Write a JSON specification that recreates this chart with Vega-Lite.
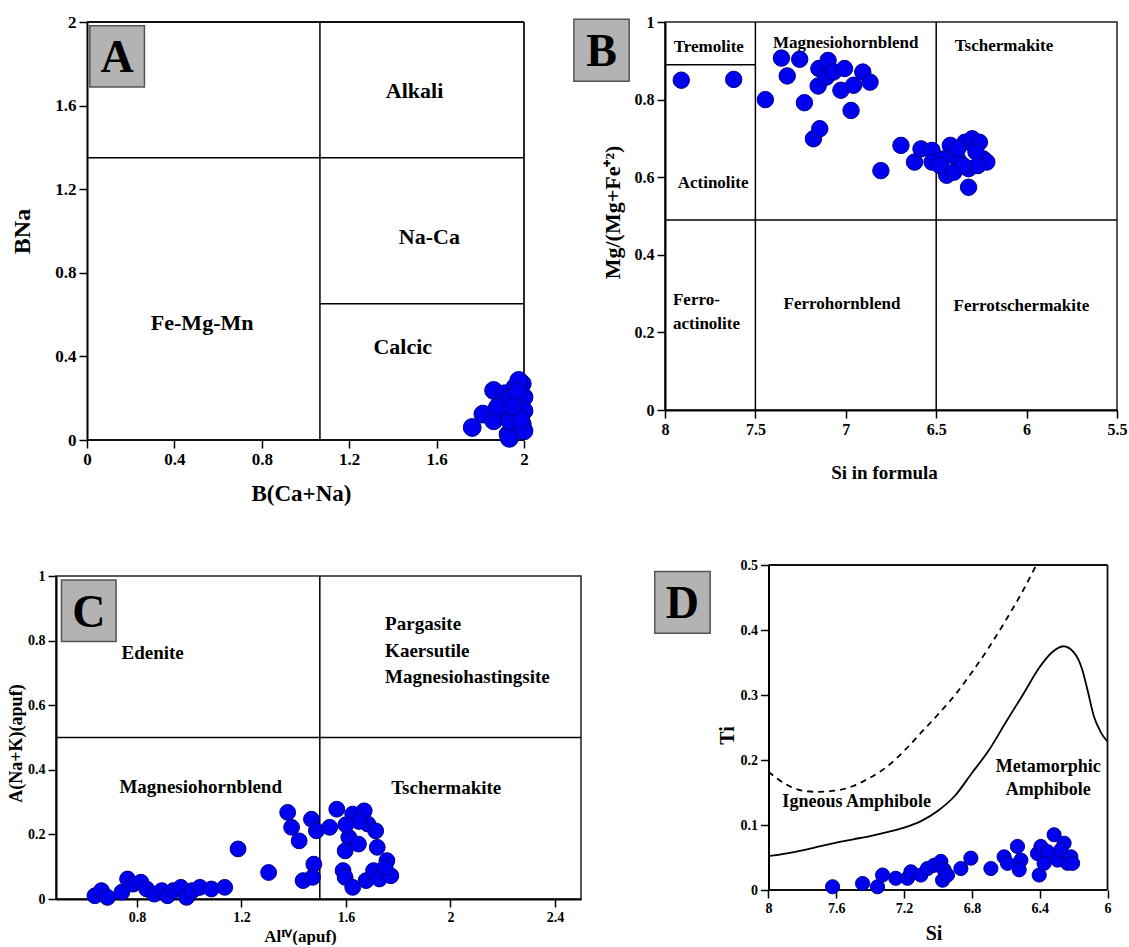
{
  "$schema": "https://vega.github.io/schema/vega-lite/v6.json",
  "padding": {"left": 6, "top": 13, "right": 0, "bottom": 0},
  "background": "white",
  "config": {
    "font": "Liberation Serif",
    "view": {"stroke": "#222", "strokeWidth": 1.5},
    "axis": {"grid": false, "domainColor": "#000", "domainWidth": 2, "tickColor": "#000", "tickWidth": 1.5, "tickSize": 8, "labelFont": "Liberation Serif", "labelFontWeight": "bold", "labelColor": "#000", "labelPadding": 3, "titleFont": "Liberation Serif", "titleFontWeight": "bold", "titleColor": "#000", "labelFlush": false, "labelOverlap": false},
    "text": {"font": "Liberation Serif", "fontWeight": "bold", "color": "#000"}
  },
  "datasets": {
    "A_lines": [
      {"x1": 1.066, "x2": 1.066, "y1": 0, "y2": 2},
      {"x1": 0, "x2": 2, "y1": 1.35, "y2": 1.35},
      {"x1": 1.066, "x2": 2, "y1": 0.652, "y2": 0.652}
    ],
    "A_frame": [
      {"x1": 0, "x2": 2, "y1": 2, "y2": 2},
      {"x1": 2, "x2": 2, "y1": 0, "y2": 2},
      {"x1": 0, "x2": 2, "y1": 0, "y2": 0}
    ],
    "A_labels": [
      {"x": 1.499, "y": 1.669, "label": "Alkali"},
      {"x": 1.567, "y": 0.971, "label": "Na-Ca"},
      {"x": 0.527, "y": 0.56, "label": "Fe-Mg-Mn"},
      {"x": 1.445, "y": 0.447, "label": "Calcic"}
    ],
    "A_box": [{"x1": 0.013, "x2": 0.263, "y1": 1.982, "y2": 1.689, "xc": 0.138, "yc": 1.835, "label": "A"}],
    "A_points": [
      {"x": 1.763, "y": 0.06}, {"x": 1.812, "y": 0.124}, {"x": 1.861, "y": 0.237}, {"x": 1.861, "y": 0.092},
      {"x": 1.91, "y": 0.221}, {"x": 1.927, "y": 0.027}, {"x": 1.918, "y": 0.14}, {"x": 1.959, "y": 0.253},
      {"x": 1.959, "y": 0.124}, {"x": 1.976, "y": 0.173}, {"x": 1.992, "y": 0.269}, {"x": 1.992, "y": 0.076},
      {"x": 2.0, "y": 0.205}, {"x": 1.959, "y": 0.06}, {"x": 1.894, "y": 0.173}, {"x": 1.976, "y": 0.285},
      {"x": 2.0, "y": 0.14}, {"x": 2.0, "y": 0.044}, {"x": 1.935, "y": 0.092}, {"x": 1.878, "y": 0.156},
      {"x": 1.94, "y": 0.2}, {"x": 1.97, "y": 0.23}, {"x": 1.985, "y": 0.1}, {"x": 1.95, "y": 0.16},
      {"x": 1.933, "y": 0.008}
    ],
    "B_lines": [
      {"x1": 7.5, "x2": 7.5, "y1": 0, "y2": 1},
      {"x1": 6.5, "x2": 6.5, "y1": 0, "y2": 1},
      {"x1": 8, "x2": 5.5, "y1": 0.49, "y2": 0.49},
      {"x1": 8, "x2": 7.5, "y1": 0.89, "y2": 0.89}
    ],
    "B_labels": [
      {"x": 7.758, "y": 0.9355, "label": "Tremolite"},
      {"x": 7.001, "y": 0.947, "label": "Magnesiohornblend"},
      {"x": 6.125, "y": 0.937, "label": "Tschermakite"},
      {"x": 7.734, "y": 0.585, "label": "Actinolite"},
      {"x": 7.021, "y": 0.273, "label": "Ferrohornblend"},
      {"x": 6.029, "y": 0.269, "label": "Ferrotschermakite"}
    ],
    "B_labels_left": [
      {"x": 7.956, "y": 0.284, "label": "Ferro-"},
      {"x": 7.956, "y": 0.222, "label": "actinolite"}
    ],
    "B_box": [{"x1": 8.504, "x2": 8.198, "y1": 1.007, "y2": 0.847, "xc": 8.351, "yc": 0.927, "label": "B"}],
    "B_points": [
      {"x": 7.91, "y": 0.85}, {"x": 7.62, "y": 0.852}, {"x": 7.445, "y": 0.8}, {"x": 7.356, "y": 0.907},
      {"x": 7.324, "y": 0.861}, {"x": 7.255, "y": 0.904}, {"x": 7.229, "y": 0.792}, {"x": 7.179, "y": 0.699},
      {"x": 7.144, "y": 0.725}, {"x": 7.153, "y": 0.835}, {"x": 7.149, "y": 0.88}, {"x": 7.098, "y": 0.901},
      {"x": 7.108, "y": 0.858}, {"x": 7.068, "y": 0.871}, {"x": 7.007, "y": 0.88}, {"x": 7.027, "y": 0.824},
      {"x": 6.957, "y": 0.837}, {"x": 6.971, "y": 0.772}, {"x": 6.906, "y": 0.871}, {"x": 6.866, "y": 0.845},
      {"x": 6.806, "y": 0.617}, {"x": 6.695, "y": 0.682}, {"x": 6.62, "y": 0.639}, {"x": 6.584, "y": 0.673},
      {"x": 6.523, "y": 0.669}, {"x": 6.523, "y": 0.639}, {"x": 6.442, "y": 0.605}, {"x": 6.422, "y": 0.682},
      {"x": 6.382, "y": 0.647}, {"x": 6.341, "y": 0.69}, {"x": 6.301, "y": 0.699}, {"x": 6.261, "y": 0.69},
      {"x": 6.321, "y": 0.622}, {"x": 6.321, "y": 0.574}, {"x": 6.24, "y": 0.647}, {"x": 6.22, "y": 0.639},
      {"x": 6.402, "y": 0.613}, {"x": 6.28, "y": 0.665}, {"x": 6.382, "y": 0.673}, {"x": 6.462, "y": 0.647},
      {"x": 6.27, "y": 0.63}, {"x": 6.35, "y": 0.63}, {"x": 6.48, "y": 0.63}
    ],
    "C_lines": [
      {"x1": 1.5, "x2": 1.5, "y1": 0, "y2": 1},
      {"x1": 0.49, "x2": 2.5, "y1": 0.5, "y2": 0.5}
    ],
    "C_labels": [
      {"x": 0.86, "y": 0.763, "label": "Edenite"},
      {"x": 1.044, "y": 0.347, "label": "Magnesiohornblend"},
      {"x": 1.984, "y": 0.343, "label": "Tschermakite"}
    ],
    "C_labels_left": [
      {"x": 1.75, "y": 0.85, "label": "Pargasite"},
      {"x": 1.75, "y": 0.768, "label": "Kaersutile"},
      {"x": 1.75, "y": 0.686, "label": "Magnesiohastingsite"}
    ],
    "C_box": [{"x1": 0.511, "x2": 0.72, "y1": 0.988, "y2": 0.797, "xc": 0.6155, "yc": 0.8925, "label": "C"}],
    "C_points": [
      {"x": 0.639, "y": 0.01}, {"x": 0.664, "y": 0.026}, {"x": 0.687, "y": 0.005}, {"x": 0.742, "y": 0.021},
      {"x": 0.764, "y": 0.062}, {"x": 0.785, "y": 0.046}, {"x": 0.815, "y": 0.052}, {"x": 0.837, "y": 0.031},
      {"x": 0.866, "y": 0.015}, {"x": 0.895, "y": 0.026}, {"x": 0.917, "y": 0.01}, {"x": 0.939, "y": 0.026},
      {"x": 0.968, "y": 0.036}, {"x": 0.99, "y": 0.005}, {"x": 1.012, "y": 0.026}, {"x": 1.041, "y": 0.036},
      {"x": 1.085, "y": 0.031}, {"x": 1.136, "y": 0.036}, {"x": 1.187, "y": 0.155}, {"x": 1.304, "y": 0.082},
      {"x": 1.377, "y": 0.268}, {"x": 1.392, "y": 0.222}, {"x": 1.421, "y": 0.18}, {"x": 1.436, "y": 0.057},
      {"x": 1.468, "y": 0.247}, {"x": 1.477, "y": 0.108}, {"x": 1.472, "y": 0.067}, {"x": 1.487, "y": 0.211},
      {"x": 1.538, "y": 0.222}, {"x": 1.565, "y": 0.278}, {"x": 1.589, "y": 0.088}, {"x": 1.597, "y": 0.067},
      {"x": 1.611, "y": 0.191}, {"x": 1.626, "y": 0.263}, {"x": 1.626, "y": 0.036}, {"x": 1.648, "y": 0.17},
      {"x": 1.67, "y": 0.273}, {"x": 1.684, "y": 0.232}, {"x": 1.677, "y": 0.057}, {"x": 1.706, "y": 0.088},
      {"x": 1.714, "y": 0.211}, {"x": 1.72, "y": 0.16}, {"x": 1.728, "y": 0.062}, {"x": 1.757, "y": 0.119},
      {"x": 1.772, "y": 0.072}, {"x": 1.75, "y": 0.098}, {"x": 1.597, "y": 0.149}, {"x": 1.65, "y": 0.24},
      {"x": 1.6, "y": 0.23}
    ],
    "D_frame": [
      {"x1": 8, "x2": 6, "y1": 0.5, "y2": 0.5},
      {"x1": 6, "x2": 6, "y1": 0, "y2": 0.5},
      {"x1": 8, "x2": 6, "y1": 0, "y2": 0}
    ],
    "D_dashed": [
      {"x": 8.0, "y": 0.182, "o": 1}, {"x": 7.9, "y": 0.163, "o": 2}, {"x": 7.8, "y": 0.153, "o": 3},
      {"x": 7.71, "y": 0.151, "o": 4}, {"x": 7.6, "y": 0.153, "o": 5}, {"x": 7.5, "y": 0.16, "o": 6},
      {"x": 7.4, "y": 0.173, "o": 7}, {"x": 7.3, "y": 0.19, "o": 8}, {"x": 7.2, "y": 0.214, "o": 9},
      {"x": 7.1, "y": 0.242, "o": 10}, {"x": 7.0, "y": 0.27, "o": 11}, {"x": 6.9, "y": 0.3, "o": 12},
      {"x": 6.8, "y": 0.335, "o": 13}, {"x": 6.7, "y": 0.373, "o": 14}, {"x": 6.6, "y": 0.415, "o": 15},
      {"x": 6.5, "y": 0.46, "o": 16}, {"x": 6.42, "y": 0.5, "o": 17}
    ],
    "D_solid": [
      {"x": 8.0, "y": 0.052, "o": 1}, {"x": 7.9, "y": 0.056, "o": 2}, {"x": 7.8, "y": 0.061, "o": 3},
      {"x": 7.7, "y": 0.067, "o": 4}, {"x": 7.6, "y": 0.073, "o": 5}, {"x": 7.5, "y": 0.078, "o": 6},
      {"x": 7.4, "y": 0.083, "o": 7}, {"x": 7.3, "y": 0.089, "o": 8}, {"x": 7.2, "y": 0.096, "o": 9},
      {"x": 7.1, "y": 0.106, "o": 10}, {"x": 7.0, "y": 0.122, "o": 11}, {"x": 6.9, "y": 0.145, "o": 12},
      {"x": 6.8, "y": 0.18, "o": 13}, {"x": 6.7, "y": 0.215, "o": 14}, {"x": 6.6, "y": 0.258, "o": 15},
      {"x": 6.5, "y": 0.3, "o": 16}, {"x": 6.4, "y": 0.343, "o": 17}, {"x": 6.33, "y": 0.365, "o": 18},
      {"x": 6.26, "y": 0.375, "o": 19}, {"x": 6.2, "y": 0.366, "o": 20}, {"x": 6.15, "y": 0.34, "o": 21},
      {"x": 6.12, "y": 0.31, "o": 22}, {"x": 6.08, "y": 0.267, "o": 23}, {"x": 6.04, "y": 0.243, "o": 24},
      {"x": 6.0, "y": 0.228, "o": 25}
    ],
    "D_labels": [
      {"x": 7.48, "y": 0.136, "label": "Igneous Amphibole"},
      {"x": 6.349, "y": 0.19, "label": "Metamorphic"},
      {"x": 6.349, "y": 0.154, "label": "Amphibole"}
    ],
    "D_box": [{"x1": 8.671, "x2": 8.344, "y1": 0.49, "y2": 0.395, "xc": 8.5075, "yc": 0.4425, "label": "D"}],
    "D_points": [
      {"x": 7.622, "y": 0.005}, {"x": 7.445, "y": 0.01}, {"x": 7.357, "y": 0.005}, {"x": 7.327, "y": 0.023},
      {"x": 7.249, "y": 0.018}, {"x": 7.18, "y": 0.018}, {"x": 7.16, "y": 0.028}, {"x": 7.101, "y": 0.023},
      {"x": 7.062, "y": 0.033}, {"x": 7.023, "y": 0.038}, {"x": 6.983, "y": 0.044}, {"x": 6.973, "y": 0.015},
      {"x": 6.964, "y": 0.031}, {"x": 6.944, "y": 0.023}, {"x": 6.865, "y": 0.033}, {"x": 6.806, "y": 0.049},
      {"x": 6.688, "y": 0.033}, {"x": 6.61, "y": 0.051}, {"x": 6.59, "y": 0.041}, {"x": 6.531, "y": 0.067},
      {"x": 6.511, "y": 0.046}, {"x": 6.521, "y": 0.031}, {"x": 6.413, "y": 0.056}, {"x": 6.403, "y": 0.023},
      {"x": 6.393, "y": 0.067}, {"x": 6.354, "y": 0.059}, {"x": 6.315, "y": 0.085}, {"x": 6.295, "y": 0.046},
      {"x": 6.256, "y": 0.072}, {"x": 6.236, "y": 0.041}, {"x": 6.216, "y": 0.051}, {"x": 6.206, "y": 0.041},
      {"x": 6.275, "y": 0.062}, {"x": 6.374, "y": 0.041}
    ]
  },
  "spacing": -11,
  "hconcat": [
    {
      "spacing": 63,
      "vconcat": [
        {
          "width": 468, "height": 418,
          "view": {"stroke": null},
          "layer": [
            {
              "data": {"name": "A_lines"},
              "mark": {"type": "rule", "color": "#000", "strokeWidth": 1.5},
              "encoding": {
                "x": {"field": "x1", "type": "quantitative", "scale": {"domain": [-0.1419, 2], "nice": false, "zero": false},
                  "axis": {"title": "B(Ca+Na)", "domain": false, "values": [0, 0.4, 0.8, 1.2, 1.6, 2], "format": "~g", "labelFontSize": 17, "titleFontSize": 23, "titleX": 245, "titleY": 53, "titleBaseline": "middle", "titleAlign": "center"}},
                "x2": {"field": "x2"},
                "y": {"field": "y1", "type": "quantitative", "scale": {"domain": [0, 2], "nice": false, "zero": false},
                  "axis": {"title": "BNa", "offset": -31, "values": [0, 0.4, 0.8, 1.2, 1.6, 2], "format": "~g", "labelFontSize": 17, "titleFontSize": 24, "titleX": -65, "titleY": 209, "titleBaseline": "middle", "titleAlign": "center"}},
                "y2": {"field": "y2"}
              }
            },
            {
              "data": {"name": "A_frame"},
              "mark": {"type": "rule", "color": "#111", "strokeWidth": 1.8},
              "encoding": {
                "x": {"field": "x1", "type": "quantitative"}, "x2": {"field": "x2"},
                "y": {"field": "y1", "type": "quantitative"}, "y2": {"field": "y2"}
              }
            },
            {
              "data": {"name": "A_box"},
              "mark": {"type": "rect", "fill": "#b3b3b3", "stroke": "#555", "strokeWidth": 1.5},
              "encoding": {
                "x": {"field": "x1", "type": "quantitative"}, "x2": {"field": "x2"},
                "y": {"field": "y1", "type": "quantitative"}, "y2": {"field": "y2"}
              }
            },
            {
              "data": {"name": "A_box"},
              "mark": {"type": "text", "fontSize": 46, "align": "center", "baseline": "middle", "dy": 2},
              "encoding": {
                "x": {"field": "xc", "type": "quantitative"},
                "y": {"field": "yc", "type": "quantitative"},
                "text": {"field": "label"}
              }
            },
            {
              "data": {"name": "A_labels"},
              "mark": {"type": "text", "fontSize": 22, "align": "center", "baseline": "middle"},
              "encoding": {
                "x": {"field": "x", "type": "quantitative"},
                "y": {"field": "y", "type": "quantitative"},
                "text": {"field": "label"}
              }
            },
            {
              "data": {"name": "A_points"},
              "mark": {"type": "point", "shape": "circle", "filled": true, "size": 320, "fill": "#0000f0", "stroke": "#00008a", "strokeWidth": 1, "opacity": 1},
              "encoding": {
                "x": {"field": "x", "type": "quantitative"},
                "y": {"field": "y", "type": "quantitative"}
              }
            }
          ]
        },
        {
          "width": 525, "height": 323,
          "layer": [
            {
              "data": {"name": "C_lines"},
              "mark": {"type": "rule", "color": "#000", "strokeWidth": 1.5},
              "encoding": {
                "x": {"field": "x1", "type": "quantitative", "scale": {"domain": [0.49, 2.5], "nice": false, "zero": false},
                  "axis": {"title": "Alᴵⱽ(apuf)", "values": [0.8, 1.2, 1.6, 2, 2.4], "format": "~g", "labelFontSize": 14, "titleFontSize": 17, "titleX": 244, "titleY": 37, "titleBaseline": "middle", "titleAlign": "center"}},
                "x2": {"field": "x2"},
                "y": {"field": "y1", "type": "quantitative", "scale": {"domain": [0, 1], "nice": false, "zero": false},
                  "axis": {"title": "A(Na+K)(apuf)", "values": [0, 0.2, 0.4, 0.6, 0.8, 1], "format": "~g", "labelFontSize": 14, "titleFontSize": 18, "titleX": -40, "titleY": 167, "titleBaseline": "middle", "titleAlign": "center"}},
                "y2": {"field": "y2"}
              }
            },
            {
              "data": {"name": "C_box"},
              "mark": {"type": "rect", "fill": "#b3b3b3", "stroke": "#555", "strokeWidth": 1.5},
              "encoding": {
                "x": {"field": "x1", "type": "quantitative"}, "x2": {"field": "x2"},
                "y": {"field": "y1", "type": "quantitative"}, "y2": {"field": "y2"}
              }
            },
            {
              "data": {"name": "C_box"},
              "mark": {"type": "text", "fontSize": 46, "align": "center", "baseline": "middle", "dy": 2},
              "encoding": {
                "x": {"field": "xc", "type": "quantitative"},
                "y": {"field": "yc", "type": "quantitative"},
                "text": {"field": "label"}
              }
            },
            {
              "data": {"name": "C_labels"},
              "mark": {"type": "text", "fontSize": 19, "align": "center", "baseline": "middle"},
              "encoding": {
                "x": {"field": "x", "type": "quantitative"},
                "y": {"field": "y", "type": "quantitative"},
                "text": {"field": "label"}
              }
            },
            {
              "data": {"name": "C_labels_left"},
              "mark": {"type": "text", "fontSize": 19, "align": "left", "baseline": "middle"},
              "encoding": {
                "x": {"field": "x", "type": "quantitative"},
                "y": {"field": "y", "type": "quantitative"},
                "text": {"field": "label"}
              }
            },
            {
              "data": {"name": "C_points"},
              "mark": {"type": "point", "shape": "circle", "filled": true, "size": 250, "fill": "#0000f0", "stroke": "#00008a", "strokeWidth": 1, "opacity": 1},
              "encoding": {
                "x": {"field": "x", "type": "quantitative"},
                "y": {"field": "y", "type": "quantitative"}
              }
            }
          ]
        }
      ]
    },
    {
      "spacing": 75,
      "vconcat": [
        {
          "width": 452, "height": 388,
          "layer": [
            {
              "data": {"name": "B_lines"},
              "mark": {"type": "rule", "color": "#000", "strokeWidth": 1.5},
              "encoding": {
                "x": {"field": "x1", "type": "quantitative", "scale": {"domain": [8, 5.5], "nice": false, "zero": false},
                  "axis": {"title": "Si in formula", "values": [8, 7.5, 7, 6.5, 6, 5.5], "format": "~g", "labelFontSize": 16, "titleFontSize": 19, "titleX": 219, "titleY": 62, "titleBaseline": "middle", "titleAlign": "center"}},
                "x2": {"field": "x2"},
                "y": {"field": "y1", "type": "quantitative", "scale": {"domain": [0, 1], "nice": false, "zero": false},
                  "axis": {"title": "Mg/(Mg+Fe⁺²)", "values": [0, 0.2, 0.4, 0.6, 0.8, 1], "format": "~g", "labelFontSize": 16, "titleFontSize": 22, "titleX": -53, "titleY": 190, "titleBaseline": "middle", "titleAlign": "center"}},
                "y2": {"field": "y2"}
              }
            },
            {
              "data": {"name": "B_box"},
              "mark": {"type": "rect", "fill": "#b3b3b3", "stroke": "#555", "strokeWidth": 1.5},
              "encoding": {
                "x": {"field": "x1", "type": "quantitative"}, "x2": {"field": "x2"},
                "y": {"field": "y1", "type": "quantitative"}, "y2": {"field": "y2"}
              }
            },
            {
              "data": {"name": "B_box"},
              "mark": {"type": "text", "fontSize": 46, "align": "center", "baseline": "middle", "dy": 2},
              "encoding": {
                "x": {"field": "xc", "type": "quantitative"},
                "y": {"field": "yc", "type": "quantitative"},
                "text": {"field": "label"}
              }
            },
            {
              "data": {"name": "B_labels"},
              "mark": {"type": "text", "fontSize": 17, "align": "center", "baseline": "middle"},
              "encoding": {
                "x": {"field": "x", "type": "quantitative"},
                "y": {"field": "y", "type": "quantitative"},
                "text": {"field": "label"}
              }
            },
            {
              "data": {"name": "B_labels_left"},
              "mark": {"type": "text", "fontSize": 17, "align": "left", "baseline": "middle"},
              "encoding": {
                "x": {"field": "x", "type": "quantitative"},
                "y": {"field": "y", "type": "quantitative"},
                "text": {"field": "label"}
              }
            },
            {
              "data": {"name": "B_points"},
              "mark": {"type": "point", "shape": "circle", "filled": true, "size": 270, "fill": "#0000f0", "stroke": "#00008a", "strokeWidth": 1, "opacity": 1},
              "encoding": {
                "x": {"field": "x", "type": "quantitative"},
                "y": {"field": "y", "type": "quantitative"}
              }
            }
          ]
        },
        {
          "width": 442.5, "height": 325,
          "view": {"stroke": null},
          "layer": [
            {
              "data": {"name": "D_solid"},
              "mark": {"type": "line", "color": "#000", "strokeWidth": 1.8, "interpolate": "monotone"},
              "encoding": {
                "x": {"field": "x", "type": "quantitative", "scale": {"domain": [8.6106, 6], "nice": false, "zero": false},
                  "axis": {"title": "Si", "domain": false, "values": [8, 7.6, 7.2, 6.8, 6.4, 6], "format": "~g", "labelFontSize": 14, "titleFontSize": 20, "titleX": 268.5, "titleY": 43, "titleBaseline": "middle", "titleAlign": "center"}},
                "y": {"field": "y", "type": "quantitative", "scale": {"domain": [0, 0.5], "nice": false, "zero": false},
                  "axis": {"title": "Ti", "offset": -103.5, "values": [0, 0.1, 0.2, 0.3, 0.4, 0.5], "format": "~g", "labelFontSize": 14, "titleFontSize": 20, "titleX": -41, "titleY": 170, "titleBaseline": "middle", "titleAlign": "center"}},
                "order": {"field": "o", "type": "quantitative"}
              }
            },
            {
              "data": {"name": "D_frame"},
              "mark": {"type": "rule", "color": "#111", "strokeWidth": 1.8},
              "encoding": {
                "x": {"field": "x1", "type": "quantitative"}, "x2": {"field": "x2"},
                "y": {"field": "y1", "type": "quantitative"}, "y2": {"field": "y2"}
              }
            },
            {
              "data": {"name": "D_dashed"},
              "mark": {"type": "line", "color": "#000", "strokeWidth": 1.8, "strokeDash": [6, 5], "interpolate": "monotone"},
              "encoding": {
                "x": {"field": "x", "type": "quantitative"},
                "y": {"field": "y", "type": "quantitative"},
                "order": {"field": "o", "type": "quantitative"}
              }
            },
            {
              "data": {"name": "D_box"},
              "mark": {"type": "rect", "fill": "#b3b3b3", "stroke": "#555", "strokeWidth": 1.5},
              "encoding": {
                "x": {"field": "x1", "type": "quantitative"}, "x2": {"field": "x2"},
                "y": {"field": "y1", "type": "quantitative"}, "y2": {"field": "y2"}
              }
            },
            {
              "data": {"name": "D_box"},
              "mark": {"type": "text", "fontSize": 46, "align": "center", "baseline": "middle", "dy": 2},
              "encoding": {
                "x": {"field": "xc", "type": "quantitative"},
                "y": {"field": "yc", "type": "quantitative"},
                "text": {"field": "label"}
              }
            },
            {
              "data": {"name": "D_labels"},
              "mark": {"type": "text", "fontSize": 18, "align": "center", "baseline": "middle"},
              "encoding": {
                "x": {"field": "x", "type": "quantitative"},
                "y": {"field": "y", "type": "quantitative"},
                "text": {"field": "label"}
              }
            },
            {
              "data": {"name": "D_points"},
              "mark": {"type": "point", "shape": "circle", "filled": true, "size": 200, "fill": "#0000f0", "stroke": "#00008a", "strokeWidth": 1, "opacity": 1},
              "encoding": {
                "x": {"field": "x", "type": "quantitative"},
                "y": {"field": "y", "type": "quantitative"}
              }
            }
          ]
        }
      ]
    }
  ]
}
